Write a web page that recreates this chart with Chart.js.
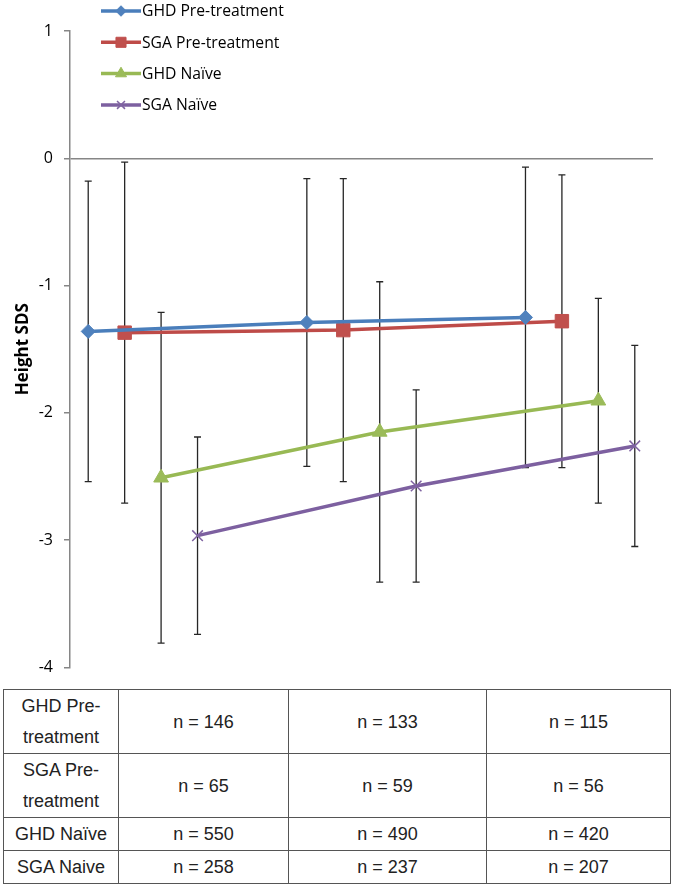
<!DOCTYPE html>
<html>
<head>
<meta charset="utf-8">
<script src="https://cdn.jsdelivr.net/npm/chart.js@4.4.1/dist/chart.umd.min.js"></script>
<style>
    body { margin: 0; background: #fff; }
    #wrap { position: relative; width: 675px; height: 688px; }
    #ntable {
        position: absolute; left: 3px; top: 689px;
        border-collapse: collapse; table-layout: fixed; width: 667px;
        font-family: "Liberation Sans", Arial, sans-serif; font-size: 18px; color: #222;
    }
    #ntable td { border: 1px solid #555; text-align: center; line-height: 31px; padding: 1px 2px 0 2px; }
</style>
</head>
<body>
<div id="wrap"><canvas id="chart"></canvas></div>
<table id="ntable">
    <colgroup><col style="width:115px"><col style="width:170px"><col style="width:198px"><col style="width:184px"></colgroup>
    <tbody></tbody>
</table>
<script>
// series labels (legend) and table row labels
var seriesNames = ["GHD Pre-treatment", "SGA Pre-treatment", "GHD Naïve", "SGA Naïve"];
var tableNames = ["GHD Pre-treatment", "SGA Pre-treatment", "GHD Naïve", "SGA Naive"];

// mean height SDS at the three time points
var ghdPre = [-1.36, -1.29, -1.25];
var sgaPre = [-1.37, -1.35, -1.28];
var ghdNaive = [-2.51, -2.15, -1.905];
var sgaNaive = [-2.965, -2.575, -2.26];

// SD (error bars)
var ghdPreSD = [1.18, 1.13, 1.18];
var sgaPreSD = [1.34, 1.19, 1.15];
var ghdNaiveSD = [1.30, 1.18, 0.805];
var sgaNaiveSD = [0.775, 0.755, 0.79];

// sample sizes
var ghdPreN = [146, 133, 115];
var sgaPreN = [65, 59, 56];
var ghdNaiveN = [550, 490, 420];
var sgaNaiveN = [258, 237, 207];

var yTicks = [-4, -3, -2, -1, 0, 1];
var slotsPerGroup = 6; // 4 series + 2 empty category slots between time points

(function () {
    var canvas = document.getElementById("chart");

    var means = [ghdPre, sgaPre, ghdNaive, sgaNaive];
    var sds = [ghdPreSD, sgaPreSD, ghdNaiveSD, sgaNaiveSD];
    var ns = [ghdPreN, sgaPreN, ghdNaiveN, sgaNaiveN];

    var lineColors = ["#4A7EBB", "#BE4B48", "#98B954", "#7D60A0"];
    var fillColors = ["#4F81BD", "#C0504D", "#9BBB59", "#8064A2"];
    var styles = ["rectRot", "rect", "triangle", "crossRot"];
    var radii = [7, 9.5, 8.5, 7.5];

    var datasets = means.map(function (vals, s) {
        return {
            label: seriesNames[s],
            data: vals.map(function (v, g) {
                return { x: g * slotsPerGroup + s, y: v, sd: sds[s][g] };
            }),
            borderColor: lineColors[s],
            backgroundColor: fillColors[s],
            borderWidth: 3.5,
            pointStyle: styles[s],
            pointRadius: radii[s],
            pointBorderWidth: s === 3 ? 1.5 : 1,
            pointBorderColor: fillColors[s],
            pointBackgroundColor: fillColors[s],
            tension: 0,
        };
    });

    // build the n table
    var tbody = document.querySelector("#ntable tbody");
    tableNames.forEach(function (name, s) {
        var tr = document.createElement("tr");
        var th = document.createElement("td");
        th.textContent = name;
        tr.appendChild(th);
        ns[s].forEach(function (n) {
            var td = document.createElement("td");
            td.textContent = "n = " + n;
            tr.appendChild(td);
        });
        tbody.appendChild(tr);
    });

    var errorBars = {
        id: "errorBars",
        beforeDatasetsDraw: function (chart) {
            var ctx = chart.ctx;
            var xs = chart.scales.x, ys = chart.scales.y;
            ctx.save();
            ctx.strokeStyle = "#262626";
            ctx.lineWidth = 1.3;
            chart.data.datasets.forEach(function (ds) {
                ds.data.forEach(function (p) {
                    var x = xs.getPixelForValue(p.x);
                    var top = ys.getPixelForValue(p.y + p.sd);
                    var bot = ys.getPixelForValue(p.y - p.sd);
                    ctx.beginPath();
                    ctx.moveTo(x, top); ctx.lineTo(x, bot);
                    ctx.moveTo(x - 3.5, top); ctx.lineTo(x + 3.5, top);
                    ctx.moveTo(x - 3.5, bot); ctx.lineTo(x + 3.5, bot);
                    ctx.stroke();
                });
            });
            ctx.restore();
        },
    };

    var lineLegend = {
        id: "lineLegend",
        afterDraw: function (chart) {
            var ctx = chart.ctx;
            ctx.save();
            chart.data.datasets.forEach(function (ds, i) {
                var y = 11 + i * 31.3;
                ctx.strokeStyle = ds.borderColor;
                ctx.lineWidth = 3.5;
                ctx.beginPath();
                ctx.moveTo(101, y); ctx.lineTo(141, y);
                ctx.stroke();
                ctx.fillStyle = ds.pointBackgroundColor;
                ctx.strokeStyle = ds.pointBorderColor;
                ctx.lineWidth = ds.pointBorderWidth;
                Chart.helpers.drawPoint(ctx, {
                    pointStyle: ds.pointStyle,
                    radius: ds.pointRadius * 0.75,
                    rotation: 0,
                    borderWidth: ds.pointBorderWidth,
                }, 121, y);
                ctx.fillStyle = "#000";
                ctx.font = "15.7px 'Open Sans', sans-serif";
                ctx.textBaseline = "middle";
                ctx.fillText(ds.label, 142, y + 1);
            });
            ctx.restore();
        },
    };

    new Chart(canvas.getContext("2d"), {
        type: "line",
        data: { datasets: datasets },
        plugins: [errorBars, lineLegend],
        options: {
            responsive: true,
            maintainAspectRatio: false,
            animation: false,
            layout: { padding: { top: 31, right: 22, bottom: 19, left: 0 } },
            scales: {
                x: {
                    type: "linear",
                    min: -0.5,
                    max: slotsPerGroup * 2 + 3.5,
                    display: false,
                },
                y: {
                    min: yTicks[0],
                    max: yTicks[yTicks.length - 1],
                    afterFit: function (scale) { scale.width = 70; },
                    afterBuildTicks: function (scale) {
                        scale.ticks = yTicks.map(function (v) { return { value: v }; });
                    },
                    ticks: {
                        color: "#000",
                        padding: 11,
                        font: { family: "'Open Sans', sans-serif", size: 16 },
                    },
                    grid: {
                        color: function (c) {
                            return c.tick && c.tick.value === 0 ? "#868686" : "rgba(0,0,0,0)";
                        },
                        tickColor: "#868686",
                        tickLength: 6,
                        lineWidth: 1.5,
                    },
                    border: { color: "#868686", width: 1.5 },
                    title: {
                        display: true,
                        text: "Height SDS",
                        color: "#000",
                        font: { family: "'Open Sans', sans-serif", size: 17, weight: "bold" },
                        padding: { top: 13, bottom: 0 },
                    },
                },
            },
            plugins: {
                legend: { display: false },
                tooltip: { enabled: false },
            },
        },
    });
})();
</script>
</body>
</html>
